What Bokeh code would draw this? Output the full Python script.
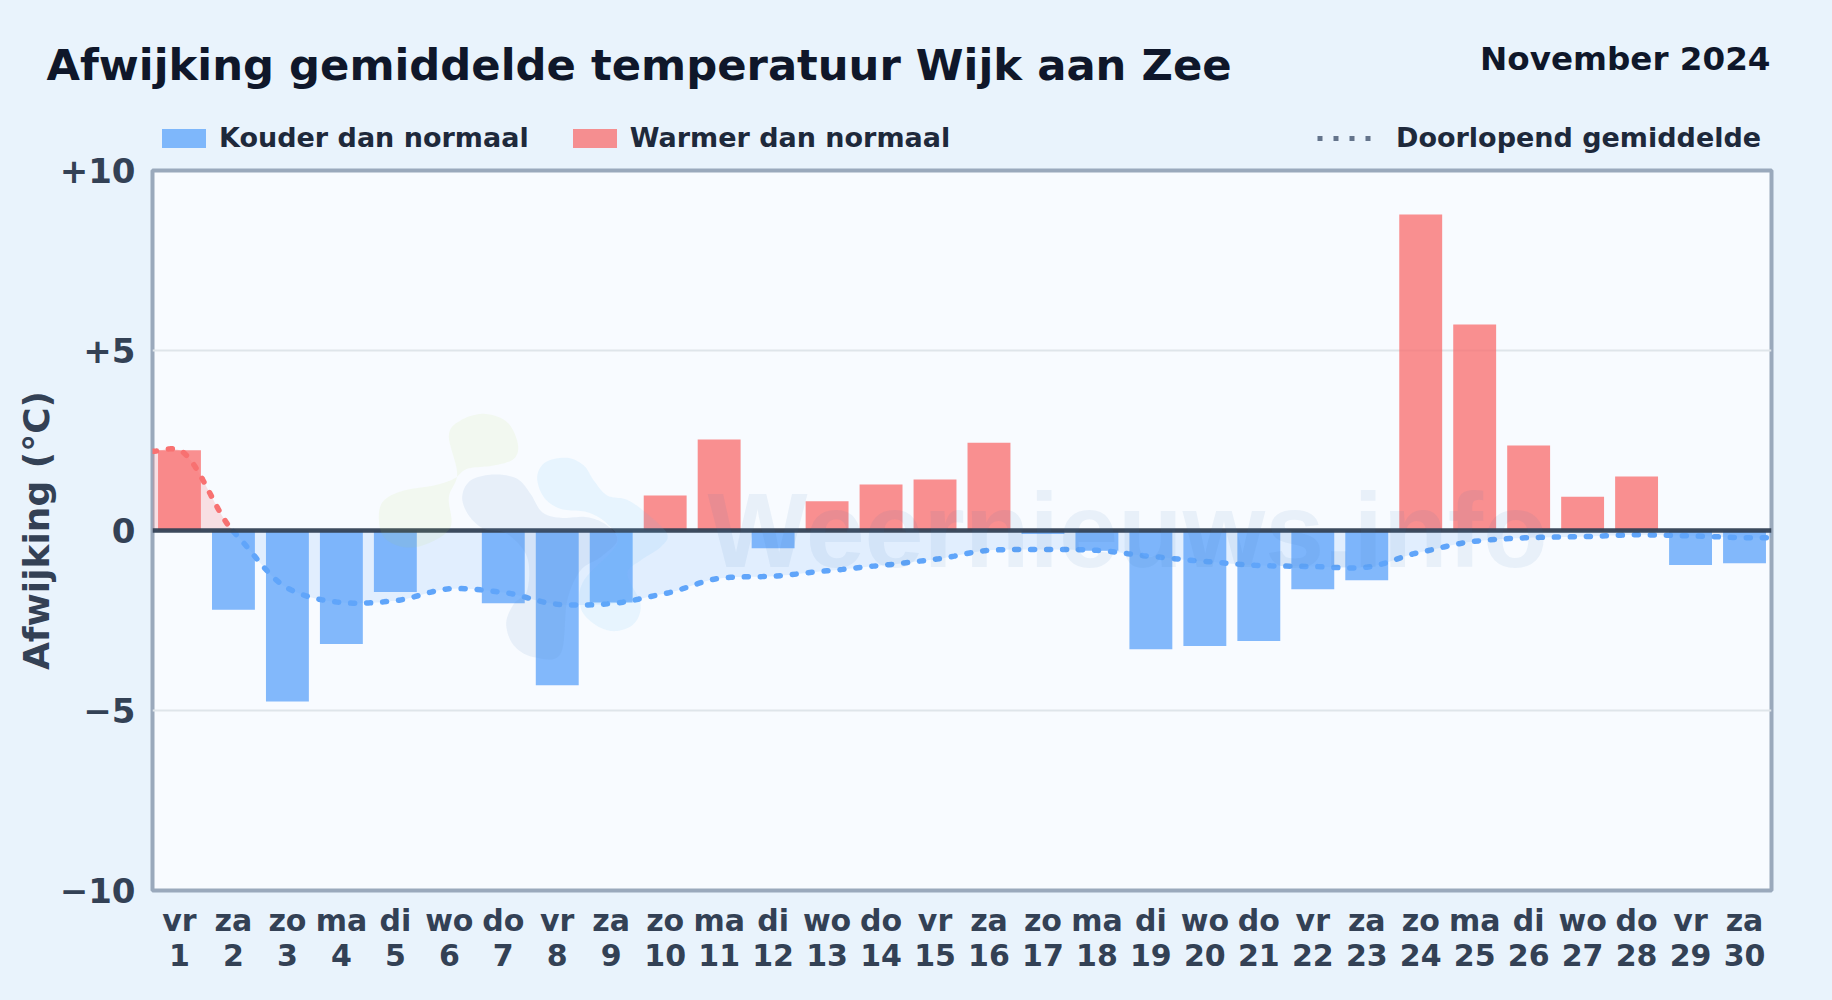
import numpy as np
from bokeh.plotting import figure
from bokeh.layouts import column
from bokeh.models import Label, Legend, LegendItem, Range1d, FixedTicker, LinearAxis
from bokeh.embed import file_html
from bokeh.resources import INLINE

weekdays = ["vr","za","zo","ma","di","wo","do"]*4 + ["vr","za"]
days = list(range(1, 31))
deviation = [2.23,-2.2,-4.75,-3.15,-1.71,0.0,-2.02,-4.3,-2.0,0.97,2.53,-0.49,0.81,1.28,1.42,2.44,
             -0.1,-0.56,-3.3,-3.21,-3.07,-1.63,-1.38,8.78,5.72,2.36,0.94,1.5,-0.96,-0.91]
# running mean, including both plot edges
mean_x = [0.5] + days + [30.5]
running_mean = [2.2,2.23,-0.03,-1.6,-2.0,-1.95,-1.62,-1.72,-2.05,-2.03,-1.75,-1.33,-1.27,-1.12,-0.97,-0.8,
                -0.55,-0.53,-0.55,-0.72,-0.86,-0.97,-1.0,-1.02,-0.6,-0.3,-0.2,-0.17,-0.12,-0.15,-0.2,-0.2]
y_ticks = [-10,-5,0,5,10]
y_tick_labels = {-10:"\u221210",-5:"\u22125",0:"0",5:"+5",10:"+10"}

# faint watermark over the chart: blob outlines in pixels of the picture
BLOB_GREEN = [(265,105),(300,60),(370,40),(440,65),(472,130),(460,175),(400,195),(320,205),(280,235),(220,255),(130,270),(70,300),(55,350),(70,410),(130,440),(200,430),(270,380),(265,290),(290,220)]
BLOB_GREY = [(305,290),(330,240),(400,222),(470,235),(510,280),(545,335),(600,352),(680,350),(740,375),(770,420),(720,470),(660,510),(620,600),(600,760),(520,770),(460,735),(437,670),(460,610),(500,570),(500,470),(440,400),(370,385),(325,345)]
BLOB_BLUE = [(530,230),(555,185),(620,172),(670,195),(700,240),(740,285),(800,298),(860,340),(920,400),(900,440),(840,480),(800,520),(840,610),(820,670),(760,692),(700,670),(660,620),(670,540),(770,430),(740,370),(680,335),(600,325),(550,290)]

W, H = 1832, 1000
L, R, T, B = 152, 1771, 170, 890
HEAD = 156
OFF = 1   # canvases start one pixel outside the window, so their edge hairline is hidden
PAGE = "#e9f3fc"
NAN = float("nan")

def closed_smooth(pts, n=12):
    P = np.array(pts, float)
    out = []
    m = len(P)
    for i in range(m):
        p0, p1, p2, p3 = P[(i-1) % m], P[i], P[(i+1) % m], P[(i+2) % m]
        for t in np.linspace(0, 1, n, endpoint=False):
            out.append(0.5*((2*p1) + (-p0+p2)*t + (2*p0-5*p1+4*p2-p3)*t*t + (-p0+3*p1-3*p2+p3)*t**3))
    return np.array(out)

def smooth(xs, ys, n=14, k=0.8):
    """Curve through the read values, for drawing only."""
    x, y = np.array(xs, float), np.array(ys, float)
    h = np.diff(x)
    m = np.zeros_like(y)
    m[0], m[-1] = (y[1]-y[0])/h[0], (y[-1]-y[-2])/h[-1]
    m[1:-1] = k*(y[2:]-y[:-2])/(x[2:]-x[:-2])
    m[1] *= 0.5
    X, Y = [], []
    for i in range(len(h)):
        t = np.linspace(0, 1, n, endpoint=False)
        X += list(x[i]+t*h[i])
        Y += list((2*t**3-3*t**2+1)*y[i]+(t**3-2*t**2+t)*h[i]*m[i]+(-2*t**3+3*t**2)*y[i+1]+(t**3-t**2)*h[i]*m[i+1])
    X.append(x[-1]); Y.append(y[-1])
    return np.array(X), np.array(Y)

# ---------- main chart ----------
p = figure(width=W+OFF, height=H-HEAD+OFF, output_backend="svg", toolbar_location=None,
           x_range=Range1d(0.5, 30.5), y_range=Range1d(-10, 10),
           min_border_left=L+OFF, min_border_right=W-R, min_border_top=T-HEAD+OFF, min_border_bottom=H-B,
           background_fill_color="#f8fbff", border_fill_color=PAGE,
           outline_line_color="#9aa9bc", outline_line_width=4, frame_align=False)
p.styles = {"margin-top": f"-{OFF}px"}

cx, cy = smooth(mean_x, running_mean)
p.varea(cx, np.minimum(cy, 0), np.zeros_like(cy), fill_color="#60a5fa", fill_alpha=0.15)
p.varea(cx, np.zeros_like(cy), np.maximum(cy, 0), fill_color="#f87171", fill_alpha=0.2)

cold_days = [d for d, v in zip(days, deviation) if v < 0]
cold_vals = [v for v in deviation if v < 0]
warm_days = [d for d, v in zip(days, deviation) if v > 0]
warm_vals = [v for v in deviation if v > 0]
p.vbar(x=cold_days, top=0, bottom=cold_vals, width=0.795, fill_color="#60a5fa", fill_alpha=0.78, line_color=None)
p.vbar(x=warm_days, top=warm_vals, bottom=0, width=0.795, fill_color="#f87171", fill_alpha=0.78, line_color=None)

p.line(cx[cy >= 0], cy[cy >= 0], line_color="#f87171", line_width=5.5, line_dash="4 12", line_cap="round")
p.line(cx[cy <= 0], cy[cy <= 0], line_color="#60a5fa", line_width=5.5, line_dash="4 12", line_cap="round")
p.hspan(y=[0], line_color="#334155", line_width=4.5, line_alpha=0.95)

def to_data(pts):
    q = closed_smooth(pts)
    px = 360 + q[:, 0]/3
    py = 400 + q[:, 1]/3
    return (px-L)/((R-L)/30)+0.5, (530-py)/36

for blob, col, a in ((BLOB_BLUE, "#58bff5", 0.1), (BLOB_GREEN, "#add543", 0.08), (BLOB_GREY, "#588dc3", 0.1)):
    bx, by = to_data(blob)
    p.patch(bx, by, fill_color=col, fill_alpha=a, line_color=None)

p.text(x=[(707-L)/((R-L)/30)+0.5], y=[(530-529)/36], text=["Weernieuws.info"],
       text_font={"value": "Liberation Sans"}, text_font_style="bold", text_font_size="106px",
       text_color="#3076b1", text_alpha=0.08, text_baseline="alphabetic")

p.grid.grid_line_color = None
p.ygrid.ticker = FixedTicker(ticks=[-5, 5])
p.ygrid.grid_line_color = "#dfe5ea"
p.ygrid.grid_line_width = 2

ax = p.yaxis[0]
ax.ticker = FixedTicker(ticks=y_ticks)
ax.major_label_overrides = y_tick_labels
ax.axis_label = "Afwijking (\u00b0C)"
ax.axis_label_text_font = "DejaVu Sans"
ax.axis_label_text_font_style = "bold"
ax.axis_label_text_font_size = "36px"
ax.axis_label_text_color = "#334155"
ax.axis_label_standoff = 0
ax.major_label_standoff = 11

wd_axis = p.xaxis[0]
wd_axis.ticker = FixedTicker(ticks=days)
wd_axis.major_label_overrides = dict(zip(days, weekdays))
wd_axis.major_label_standoff = 6

num_axis = LinearAxis(ticker=FixedTicker(ticks=days))
num_axis.major_label_standoff = -3
p.add_layout(num_axis, "below")

for a, size in ((ax, "34px"), (wd_axis, "30px"), (num_axis, "30px")):
    a.axis_line_color = None
    a.major_tick_line_color = None
    a.minor_tick_line_color = None
    a.major_label_text_font = "DejaVu Sans"
    a.major_label_text_font_style = "bold"
    a.major_label_text_font_size = size
    a.major_label_text_color = "#334155"

# ---------- header with title and legends ----------
head = figure(width=W+OFF, height=HEAD+OFF, output_backend="svg", toolbar_location=None,
              x_range=Range1d(-OFF, W), y_range=Range1d(HEAD, -OFF),
              min_border=0, x_axis_type=None, y_axis_type=None,
              background_fill_color=PAGE, border_fill_color=PAGE, outline_line_color=None, frame_align=False)
head.styles = {"position": "relative", "z-index": "1"}
head.grid.grid_line_color = None

key_cold = head.vbar(x=[NAN], top=[NAN], bottom=[NAN], width=1, fill_color="#60a5fa", fill_alpha=0.78, line_color=None)
key_warm = head.vbar(x=[NAN], top=[NAN], bottom=[NAN], width=1, fill_color="#f87171", fill_alpha=0.78, line_color=None)
key_line = head.line([NAN], [NAN], line_color="#64748b", line_width=5, line_dash="5 11")

def make_legend(items, loc, gw, gh, standoff):
    lg = Legend(items=items, location=loc, orientation="horizontal",
                background_fill_alpha=0, border_line_color=None, padding=0, margin=0, spacing=38,
                glyph_width=gw, glyph_height=gh, label_standoff=standoff,
                label_text_font="DejaVu Sans", label_text_font_style="bold",
                label_text_font_size="27px", label_text_color="#1e293b", label_height=26)
    head.add_layout(lg, "center")

make_legend([LegendItem(label="Kouder dan normaal", renderers=[key_cold]),
             LegendItem(label="Warmer dan normaal", renderers=[key_warm])], (156+OFF, 3), 55, 24, 8)
make_legend([LegendItem(label="Doorlopend gemiddelde", renderers=[key_line])], (1317+OFF, 3), 58, 24, 21)

head.add_layout(Label(x=46, y=64, text="Afwijking gemiddelde temperatuur Wijk aan Zee",
                      text_font="DejaVu Sans", text_font_style="bold", text_font_size="43.3px", text_color="#0f172a", text_baseline="alphabetic"))
head.add_layout(Label(x=1770, y=58, text="November 2024", text_align="right",
                      text_font="DejaVu Sans", text_font_style="bold", text_font_size="32.6px", text_color="#0f172a", text_baseline="alphabetic"))

page = column(head, p, spacing=0)
page.styles = {"position": "absolute", "left": f"-{OFF}px", "top": f"-{OFF}px"}

open("out.html", "w").write(file_html(page, INLINE))
